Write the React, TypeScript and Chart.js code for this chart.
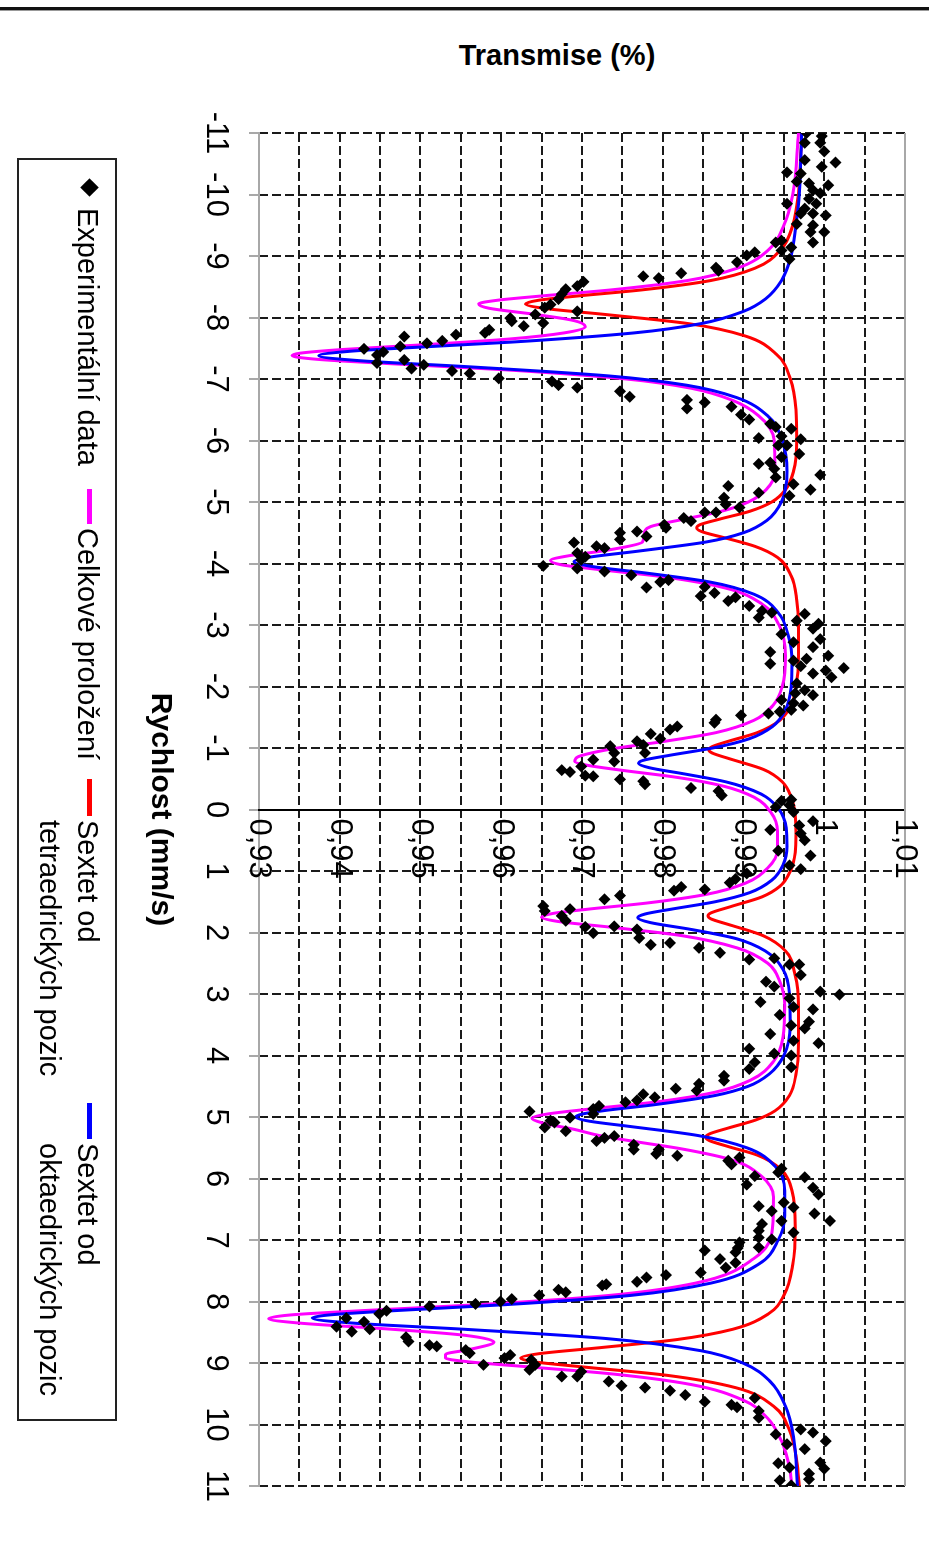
import React, { useEffect, useRef } from 'react';
import { Chart, registerables } from 'chart.js';

Chart.register(...registerables);

const FONT = '"Liberation Sans", Arial, sans-serif';

// Experimental data: velocity (mm/s) and transmission
const EXP_V = [
  -11.0, -10.95, -10.84, -10.84, -10.7, -10.56, -10.52, -10.45, -10.36, -10.34, -10.21, -10.18, -10.15, -10.07, -10.02,
  -9.93, -9.85, -9.85, -9.77, -9.69, -9.69, -9.66, -9.52, -9.5, -9.39, -9.39, -9.22, -9.25, -9.22, -9.14, -9.09, -9.06,
  -9.01, -8.95, -8.9, -8.81, -8.76, -8.72, -8.67, -8.64, -8.58, -8.51, -8.46, -8.38, -8.3, -8.21, -8.16, -8.1, -8.05,
  -7.99, -7.94, -7.91, -7.86, -7.8, -7.75, -7.72, -7.69, -7.62, -7.58, -7.53, -7.49, -7.44, -7.39,
  -7.31, -7.26, -7.23, -7.17, -7.13, -7.09, -7.01, -6.96, -6.9, -6.86, -6.8, -6.71, -6.66, -6.62, -6.55, -6.52, -6.42,
  -6.34, -6.27, -6.22, -6.19, -6.07, -6.04, -6.02, -5.92, -5.92, -5.78, -5.73, -5.64, -5.62, -5.54, -5.44, -5.4, -5.29,
  -5.26, -5.2, -5.15, -5.1, -5.07, -4.96, -4.91, -4.83, -4.83, -4.74, -4.69, -4.63, -4.58, -4.52, -4.5, -4.44, -4.39,
  -4.34, -4.28, -4.25, -4.17, -4.11, -4.06, -3.96, -3.92, -3.87, -3.81, -3.73, -3.7, -3.62, -3.61,
  -3.52, -3.47, -3.45, -3.39, -3.31, -3.23, -3.2, -3.18, -3.12, -3.07, -3.02, -2.94, -2.85, -2.77, -2.72, -2.64, -2.56,
  -2.5, -2.45, -2.42, -2.37, -2.33, -2.3, -2.26, -2.21, -2.15, -2.05, -1.94, -1.89, -1.86, -1.78, -1.73, -1.69, -1.62,
  -1.59, -1.56, -1.53, -1.46, -1.41, -1.35, -1.3, -1.23, -1.15, -1.11, -1.05, -1.03, -0.92, -0.92, -0.81, -0.78, -0.7,
  -0.64, -0.61, -0.55, -0.54, -0.49, -0.46, -0.41, -0.35, -0.3, -0.23, -0.16, -0.14,
  -0.07, -0.04, 0.04, 0.19, 0.26, 0.33, 0.39, 0.5, 0.67, 0.75, 0.91, 0.97, 1.04, 1.13, 1.19, 1.26, 1.3, 1.32, 1.4, 1.46,
  1.57, 1.62, 1.65, 1.73, 1.81, 1.9, 1.91, 1.95, 2.01, 2.09, 2.17, 2.2, 2.25, 2.33, 2.42, 2.44, 2.52, 2.52, 2.69, 2.8,
  2.88, 2.96, 3.01, 3.07, 3.13, 3.21, 3.25, 3.34, 3.45, 3.51, 3.56,
  3.65, 3.76, 3.8, 3.89, 3.97, 4.0, 4.11, 4.19, 4.22, 4.33, 4.41, 4.46, 4.54, 4.57, 4.63, 4.68, 4.73, 4.76, 4.82, 4.87,
  4.91, 4.95, 5.01, 5.06, 5.09, 5.17, 5.23, 5.31, 5.34, 5.39, 5.45, 5.53, 5.53, 5.6, 5.63, 5.66, 5.71, 5.77, 5.84, 5.9,
  5.96, 5.98, 6.1, 6.15, 6.26, 6.39, 6.45, 6.47, 6.53, 6.57, 6.69, 6.69, 6.74, 6.85, 6.88, 6.96, 6.99, 7.04, 7.13, 7.17,
  7.12, 7.2, 7.31, 7.37, 7.45, 7.53, 7.57, 7.61, 7.68, 7.72, 7.74, 7.81, 7.85, 7.9, 7.96, 8.0, 8.04, 8.08, 8.15, 8.2,
  8.27, 8.33, 8.41, 8.45, 8.49, 8.58, 8.65, 8.71, 8.73, 8.79, 8.84, 8.87, 8.92, 8.95, 9.03, 9.03, 9.11, 9.14, 9.22, 9.22,
  9.3, 9.37, 9.4, 9.45, 9.52, 9.57, 9.63, 9.68, 9.72, 9.78, 9.89, 10.08, 10.13, 10.16, 10.27, 10.32, 10.4, 10.62, 10.63,
  10.7, 10.72, 10.8, 10.89, 10.91, 10.99,
];
const EXP_T = [
  0.9978, 0.9997, 0.9976, 0.9995, 1.0, 0.9976, 1.0014, 0.9997, 0.9954, 0.9971, 0.9966, 0.9981, 1.0005, 0.9986, 0.9995,
  0.9981, 0.9954, 0.999, 0.9976, 0.9971, 0.9986, 1.0002, 0.9966, 0.9986, 0.9983, 1.0, 0.9986, 0.9947, 0.994, 0.9959, 0.9947, 0.9914,
  0.9904, 0.9957, 0.9892, 0.9866, 0.9869, 0.9823, 0.9776, 0.9795, 0.9702, 0.9694, 0.968, 0.9675, 0.9671, 0.9661, 0.9654, 0.9694, 0.9642,
  0.9611, 0.9613, 0.9652, 0.9628, 0.9585, 0.958, 0.9544, 0.948, 0.9527, 0.9508, 0.9475, 0.943, 0.9454, 0.9446,
  0.948, 0.9446, 0.9504, 0.9489, 0.9539, 0.9561, 0.9597, 0.9663, 0.9671, 0.9694, 0.9747, 0.9759, 0.983, 0.9852, 0.9885, 0.983, 0.9897,
  0.9907, 0.9933, 0.994, 0.9959, 0.9947, 0.9919, 0.9971, 0.9954, 0.9943, 0.9969, 0.9947, 0.9933, 0.9919, 0.9938, 0.9995, 0.994, 0.9962,
  0.9881, 0.9983, 0.9919, 0.9957, 0.9876, 0.9878, 0.9895, 0.9852, 0.9866, 0.9826, 0.9835, 0.9802, 0.9804, 0.9768, 0.9747, 0.978, 0.9747,
  0.969, 0.9718, 0.9728, 0.9694, 0.9704, 0.9699, 0.9652, 0.9694, 0.9728, 0.9761, 0.9807, 0.9797, 0.9852, 0.978,
  0.9864, 0.9847, 0.989, 0.9881, 0.9907, 0.9923, 0.9935, 0.9976, 0.9919, 0.9966, 0.9993, 0.9986, 0.9947, 0.9995, 0.9962, 0.9986, 0.9933,
  1.0005, 0.9978, 0.9962, 0.9933, 0.9971, 1.0024, 1.0002, 0.9986, 1.0009, 0.9966, 0.9976, 0.9964, 0.9986, 0.9947, 0.9962, 0.9974, 0.9959,
  0.9945, 0.9931, 0.9897, 0.9866, 0.9864, 0.9818, 0.9809, 0.9785, 0.9797, 0.9768, 0.9776, 0.9735, 0.9778, 0.974, 0.9714, 0.974, 0.9699,
  0.9675, 0.9685, 0.9704, 0.9714, 0.9747, 0.9776, 0.9778, 0.9835, 0.9869, 0.9873, 0.9959, 0.9947,
  0.9957, 0.994, 0.9962, 0.9986, 0.9969, 0.9933, 0.9971, 0.9976, 0.9943, 0.9983, 0.9957, 0.9971, 0.9904, 0.989, 0.9883, 0.9823, 0.9852, 0.9814, 0.9747, 0.9728,
  0.9652, 0.9685, 0.9654, 0.9675, 0.968, 0.974, 0.9704, 0.9768, 0.9714, 0.9771, 0.9809, 0.9785, 0.9845, 0.9871, 0.9938, 0.9907, 0.9957, 0.9969, 0.9971, 0.9928,
  0.9938, 0.9995, 1.0019, 0.9957, 0.9921, 0.9962, 0.9986, 0.9945, 0.9981, 0.9959, 0.9976,
  0.9933, 0.9962, 0.9993, 0.9907, 0.9938, 0.9959, 0.9914, 0.9959, 0.9907, 0.9876, 0.9876, 0.9845, 0.9816, 0.9842, 0.9776, 0.979, 0.9768, 0.9754, 0.9721, 0.9714,
  0.9635, 0.9714, 0.9685, 0.9661, 0.9666, 0.9654, 0.968, 0.974, 0.9728, 0.9718, 0.9764, 0.9764, 0.9795, 0.9792, 0.9818, 0.9895, 0.9881, 0.9885, 0.9947, 0.9943,
  0.9914, 0.9976, 0.9904, 0.9986, 0.9993, 0.995, 0.9919, 0.9962, 0.9935, 0.9988, 1.0007, 0.9947, 0.9923, 0.9919, 0.9962, 0.9919, 0.9935, 0.9895, 0.9893, 0.9852,
  0.9919, 0.989, 0.9871, 0.989, 0.9878, 0.9847, 0.9804, 0.978, 0.9768, 0.973, 0.9725, 0.9671, 0.968, 0.9647, 0.9613, 0.9599, 0.9568, 0.9511, 0.9458, 0.9449,
  0.9408, 0.943, 0.9396, 0.9437, 0.9415, 0.9482, 0.9485, 0.9511, 0.952, 0.9556, 0.9561, 0.9611, 0.9604, 0.9637, 0.9578, 0.9642, 0.9635, 0.9699, 0.9675, 0.9694,
  0.9733, 0.9749, 0.9778, 0.9809, 0.9828, 0.9914, 0.9852, 0.9885, 0.9892, 0.9919, 0.9919, 0.9971, 0.9986, 0.994, 1.0002, 0.9954, 0.9976, 0.9995, 0.9943,
  0.9957, 1.0, 0.9981, 0.9981, 0.9945, 0.9959,
];

// Total fit (magenta)
const FIT_V = [
  -11, -10, -9.5, -9.1, -8.8, -8.6, -8.45, -8.35, -8.28, -8.22, -8.15, -8.05, -7.95, -7.85, -7.75, -7.65, -7.55, -7.48,
  -7.42, -7.38, -7.32, -7.25, -7.15, -7.0, -6.85, -6.65, -6.4, -6.0, -5.5, -5.2, -5.0, -4.85, -4.72, -4.6, -4.48, -4.35,
  -4.22, -4.12, -4.05, -3.98, -3.9, -3.78, -3.6, -3.35, -3.0, -2.5, -2.0, -1.7, -1.45, -1.25, -1.1, -1.0, -0.92, -0.85,
  -0.78, -0.72, -0.64, -0.52, -0.38, -0.2, 0.05, 0.35, 0.65, 0.95, 1.2, 1.38, 1.52, 1.62, 1.69, 1.75, 1.82, 1.92, 2.05,
  2.25, 2.5, 2.8, 3.2, 3.7, 4.1, 4.4, 4.6, 4.75, 4.87, 4.95, 5.02, 5.1, 5.2, 5.3, 5.4, 5.52, 5.7, 5.95, 6.3, 6.8, 7.3,
  7.7, 7.9, 8.05, 8.15, 8.22, 8.28, 8.35, 8.45, 8.55, 8.66, 8.78, 8.86, 8.92, 8.98, 9.06, 9.18, 9.35, 9.6, 9.9, 10.3,
  10.7, 11,
];
const FIT_T = [
  0.9968, 0.9961, 0.995, 0.9931, 0.9892, 0.983, 0.9737, 0.965, 0.9595, 0.9572, 0.9585, 0.9642, 0.969, 0.9704, 0.9678, 0.961, 0.9495, 0.9404,
  0.9351, 0.9341, 0.9372, 0.9461, 0.9604, 0.9755, 0.9835, 0.9887, 0.9919, 0.9938, 0.9939, 0.9928, 0.9906, 0.9873, 0.9826, 0.9785, 0.9777, 0.9775,
  0.9733, 0.9681, 0.9661, 0.9674, 0.9722, 0.9803, 0.9878, 0.9922, 0.9944, 0.9952, 0.9948, 0.9937, 0.9913, 0.9866, 0.9798, 0.9744, 0.9712, 0.9694,
  0.9691, 0.9706, 0.9748, 0.9819, 0.9875, 0.9913, 0.9934, 0.9942, 0.9942, 0.993, 0.9902, 0.9854, 0.9781, 0.9708, 0.9664, 0.965, 0.967, 0.974, 0.9823,
  0.9892, 0.993, 0.9945, 0.9951, 0.9949, 0.9937, 0.9909, 0.9864, 0.9795, 0.971, 0.9658, 0.9638, 0.9652, 0.969, 0.9721, 0.9766, 0.9824, 0.9886, 0.9921, 0.9937, 0.9936, 0.9913,
  0.9841, 0.9735, 0.9574, 0.9426, 0.9338, 0.9312, 0.9349, 0.9463, 0.9555, 0.9591, 0.9561, 0.9531, 0.9531, 0.9559, 0.9631, 0.9739, 0.9835, 0.9899, 0.993, 0.9948,
  0.9957, 0.996,
];

// Tetrahedral sextet (red)
const TETRA_V = [
  -11, -10, -9.5, -9.1, -8.8, -8.6, -8.45, -8.35, -8.28, -8.22, -8.15, -8.05, -7.9, -7.7, -7.4, -7.0, -6.5, -6.0, -5.5,
  -5.2, -5.0, -4.85, -4.72, -4.63, -4.58, -4.52, -4.42, -4.28, -4.1, -3.8, -3.4, -3.0, -2.5, -2.0, -1.7, -1.45, -1.25,
  -1.1, -1.02, -0.97, -0.92, -0.82, -0.65, -0.45, -0.2, 0.1, 0.4, 0.7, 1.0, 1.25, 1.42, 1.58, 1.68, 1.73, 1.78, 1.88,
  2.05, 2.3, 2.7, 3.2, 3.8, 4.3, 4.65, 4.9, 5.05, 5.18, 5.28, 5.33, 5.38, 5.48, 5.62, 5.85, 6.2, 6.8, 7.4, 7.9, 8.2,
  8.45, 8.62, 8.75, 8.85, 8.92, 8.98, 9.06, 9.2, 9.4, 9.7, 10.1, 10.6, 11,
];
const TETRA_T = [
  0.9972, 0.9968, 0.9961, 0.9946, 0.9914, 0.9859, 0.9775, 0.9695, 0.9646, 0.963, 0.9652, 0.9728, 0.9832, 0.9902, 0.9941, 0.9958, 0.9965, 0.9966, 0.9962,
  0.9952, 0.9935, 0.9908, 0.987, 0.9846, 0.9842, 0.9848, 0.9876, 0.9914, 0.9942, 0.9959, 0.9966, 0.9968, 0.9968, 0.9965, 0.9959, 0.9945, 0.9917,
  0.9879, 0.9861, 0.9857, 0.9861, 0.9884, 0.9925, 0.9948, 0.9959, 0.9964, 0.9965, 0.9964, 0.9958, 0.9945, 0.9923, 0.9884, 0.986, 0.9856, 0.986, 0.9884,
  0.9924, 0.9952, 0.9964, 0.9968, 0.9968, 0.9965, 0.9957, 0.9939, 0.9915, 0.9881, 0.9857, 0.9853, 0.9857, 0.9881, 0.9917, 0.9946, 0.996, 0.9964, 0.9961, 0.995, 0.9931,
  0.9887, 0.9817, 0.9723, 0.9646, 0.9624, 0.964, 0.9698, 0.9805, 0.989, 0.9937, 0.9957, 0.9966, 0.9969,
];

// Octahedral sextet (blue)
const OKTA_V = [
  -11, -10, -9.5, -9, -8.6, -8.3, -8.1, -7.9, -7.75, -7.6, -7.5, -7.45, -7.38, -7.3, -7.2, -7.05, -6.9, -6.7, -6.4, -6.0,
  -5.5, -5.0, -4.7, -4.5, -4.35, -4.2, -4.1, -4.03, -3.95, -3.85, -3.7, -3.5, -3.2, -2.8, -2.4, -2.0, -1.6, -1.35, -1.15,
  -1.0, -0.88, -0.8, -0.75, -0.68, -0.58, -0.45, -0.25, 0, 0.3, 0.6, 0.9, 1.15, 1.35, 1.5, 1.62, 1.7, 1.76, 1.84, 1.95,
  2.1, 2.3, 2.6, 3.0, 3.5, 4.0, 4.3, 4.5, 4.65, 4.8, 4.9, 4.95, 5.0, 5.07, 5.15, 5.3, 5.5, 5.8, 6.2, 6.6, 7.0, 7.4, 7.7,
  7.9, 8.05, 8.15, 8.22, 8.27, 8.35, 8.45, 8.6, 8.8, 9.0, 9.3, 9.7, 10.2, 11,
];
const OKTA_T = [
  0.9972, 0.9969, 0.9965, 0.9959, 0.9947, 0.9927, 0.99, 0.9847, 0.9765, 0.9613, 0.9473, 0.9412, 0.9374, 0.9422, 0.9558, 0.9733, 0.9829, 0.9891, 0.993, 0.9948,
  0.9954, 0.9947, 0.9929, 0.99, 0.9854, 0.9769, 0.9708, 0.969, 0.9713, 0.9776, 0.9858, 0.9913, 0.9943, 0.9956, 0.996, 0.9959, 0.9951, 0.9936, 0.9907,
  0.9862, 0.9808, 0.9776, 0.977, 0.9783, 0.9826, 0.9878, 0.9922, 0.9944, 0.9953, 0.9954, 0.9949, 0.9935, 0.9908, 0.9865, 0.9811, 0.9778, 0.9769, 0.9785, 0.9835,
  0.9891, 0.9927, 0.9949, 0.9957, 0.9958, 0.995, 0.9932, 0.9906, 0.9865, 0.979, 0.9725, 0.9701, 0.9692, 0.971, 0.9757, 0.9843, 0.9904, 0.9939, 0.9951, 0.9951, 0.9943, 0.9918, 0.986,
  0.9761, 0.9607, 0.9466, 0.9386, 0.9366, 0.9415, 0.9552, 0.9728, 0.9847, 0.9899, 0.9933, 0.9952, 0.9962, 0.9967,
];

// Transmission axis labels (drawn next to the axis crossing at v = 0)
const Y_LABEL_VALUES = [0.93, 0.94, 0.95, 0.96, 0.97, 0.98, 0.99, 1.0, 1.01];
const Y_LABELS = ['0,93', '0,94', '0,95', '0,96', '0,97', '0,98', '0,99', '1', '1,01'];

const LEGEND_LABELS = ['Experimentální data', 'Celkové proložení', 'Sextet od', 'tetraedrických pozic', 'oktaedrických pozic'];

const pts = (vs: number[], ts: number[]) => vs.map((v, i) => ({ x: v, y: ts[i] }));

const centerAxisPlugin = {
  id: 'centerAxisLabels',
  beforeDatasetsDraw(chart: any) {
    const { ctx, chartArea, scales } = chart;
    const xs = scales.x;
    const ys = scales.y;
    ctx.save();
    // top frame edge (T = 1.01)
    ctx.strokeStyle = '#a8a8a8';
    ctx.lineWidth = 2;
    ctx.beginPath();
    const ty = Math.round(chartArea.top);
    ctx.moveTo(chartArea.left, ty);
    ctx.lineTo(chartArea.right, ty);
    ctx.stroke();
    // labels of the transmission axis
    ctx.fillStyle = '#000';
    ctx.font = '31px ' + FONT;
    ctx.textAlign = 'left';
    ctx.textBaseline = 'middle';
    const x0 = xs.getPixelForValue(0);
    Y_LABEL_VALUES.forEach((v, i) => {
      ctx.fillText(Y_LABELS[i], x0 + 9, ys.getPixelForValue(v));
    });
    ctx.restore();
  },
};

const isEdge = (v: number) => Math.abs(v - 0.93) < 1e-6 || Math.abs(v - 1.01) < 1e-6;

export default function App() {
  const ref = useRef<HTMLCanvasElement>(null);

  useEffect(() => {
    if (!ref.current) return;
    const chart = new Chart(ref.current, {
      type: 'scatter',
      data: {
        datasets: [
          {
            label: LEGEND_LABELS[0],
            data: pts(EXP_V, EXP_T),
            pointStyle: 'rectRot',
            pointRadius: 6,
            pointBackgroundColor: '#000',
            pointBorderColor: '#000',
            pointBorderWidth: 0,
            showLine: false,
            order: 0,
          },
          {
            label: LEGEND_LABELS[1],
            data: pts(FIT_V, FIT_T),
            borderColor: '#ff00ff',
            backgroundColor: '#ff00ff',
            borderWidth: 3,
            pointRadius: 0,
            showLine: true,
            cubicInterpolationMode: 'monotone',
            order: 3,
          },
          {
            label: 'Sextet od tetraedrických pozic',
            data: pts(TETRA_V, TETRA_T),
            borderColor: '#ff0000',
            backgroundColor: '#ff0000',
            borderWidth: 3,
            pointRadius: 0,
            showLine: true,
            cubicInterpolationMode: 'monotone',
            order: 2,
          },
          {
            label: 'Sextet od oktaedrických pozic',
            data: pts(OKTA_V, OKTA_T),
            borderColor: '#0000ff',
            backgroundColor: '#0000ff',
            borderWidth: 3,
            pointRadius: 0,
            showLine: true,
            cubicInterpolationMode: 'monotone',
            order: 1,
          },
        ],
      },
      options: {
        responsive: false,
        animation: false,
        devicePixelRatio: 1,
        layout: { padding: { left: 133, right: 80, top: 24, bottom: 139 } },
        plugins: { legend: { display: false }, tooltip: { enabled: false } },
        scales: {
          x: {
            type: 'linear',
            position: 'bottom',
            min: -11,
            max: 11,
            ticks: {
              stepSize: 1,
              autoSkip: false,
              maxRotation: 0,
              minRotation: 0,
              padding: 15,
              color: '#000',
              font: { size: 31, family: FONT },
              callback: (v: any) => String(v),
            },
            grid: {
              color: '#1a1a1a',
              lineWidth: 2,
              drawTicks: true,
              tickLength: 10,
              tickColor: '#a8a8a8',
              tickWidth: 2,
              tickBorderDash: [],
            },
            border: { display: true, color: '#a8a8a8', width: 2, dash: [9, 4] },
            title: {
              display: true,
              text: 'Rychlost (mm/s)',
              color: '#000',
              font: { size: 30, weight: 'bold', family: FONT },
              padding: { top: 0, bottom: 3 },
            },
            afterFit: (s: any) => {
              s.height = 120;
            },
          },
          y: {
            type: 'linear',
            position: { x: 0 },
            min: 0.93,
            max: 1.01,
            ticks: { stepSize: 0.005, display: false },
            grid: {
              color: (c: any) => (c.tick && isEdge(c.tick.value) ? 'rgba(0,0,0,0)' : '#1a1a1a'),
              lineWidth: 2,
              drawTicks: false,
            },
            border: { display: true, color: '#000', width: 2, dash: [9, 4] },
          },
        },
      } as any,
      plugins: [centerAxisPlugin],
    });
    return () => chart.destroy();
  }, []);

  const textStyle: React.CSSProperties = {
    position: 'absolute',
    font: '29px ' + FONT,
    lineHeight: '38px',
    color: '#000',
    whiteSpace: 'nowrap',
  };
  const bar = (left: number, width: number, color: string): React.CSSProperties => ({
    position: 'absolute',
    left,
    top: 837,
    width,
    height: 5,
    background: color,
  });

  return (
    <div style={{ position: 'absolute', left: 0, top: 0, width: 929, height: 1566, overflow: 'hidden', background: '#fff' }}>
      <div style={{ position: 'absolute', left: 0, top: 7, width: 929, height: 3, background: '#111' }} />
      <div style={{ position: 'absolute', left: 0, top: 10, width: 929, height: 1, background: '#999' }} />
      <div
        style={{
          position: 'absolute',
          left: 557,
          top: 41,
          transform: 'translateX(-50%)',
          font: 'bold 29px ' + FONT,
          lineHeight: '29px',
          whiteSpace: 'nowrap',
          color: '#000',
        }}
      >
        Transmise (%)
      </div>
      <div
        style={{
          position: 'absolute',
          left: 0,
          top: 0,
          width: 1566,
          height: 929,
          transformOrigin: '0 0',
          transform: 'translateX(929px) rotate(90deg)',
        }}
      >
        <canvas ref={ref} width={1566} height={929} style={{ position: 'absolute', left: 0, top: 0, width: 1566, height: 929 }} />
        <div
          style={{
            position: 'absolute',
            left: 158,
            top: 812,
            width: 1263,
            height: 100,
            boxSizing: 'border-box',
            border: '2px solid #222',
            background: '#fff',
          }}
        />
        <div
          style={{
            position: 'absolute',
            left: 181,
            top: 833,
            width: 13,
            height: 13,
            background: '#000',
            transform: 'rotate(45deg)',
          }}
        />
        <div style={{ ...textStyle, left: 208, top: 822 }}>{LEGEND_LABELS[0]}</div>
        <div style={bar(489, 35, '#ff00ff')} />
        <div style={{ ...textStyle, left: 528, top: 822 }}>{LEGEND_LABELS[1]}</div>
        <div style={bar(779, 37, '#ff0000')} />
        <div style={{ ...textStyle, left: 820, top: 822 }}>
          {LEGEND_LABELS[2]}
          <br />
          {LEGEND_LABELS[3]}
        </div>
        <div style={bar(1103, 36, '#0000ff')} />
        <div style={{ ...textStyle, left: 1143, top: 822 }}>
          {LEGEND_LABELS[2]}
          <br />
          {LEGEND_LABELS[4]}
        </div>
      </div>
    </div>
  );
}
